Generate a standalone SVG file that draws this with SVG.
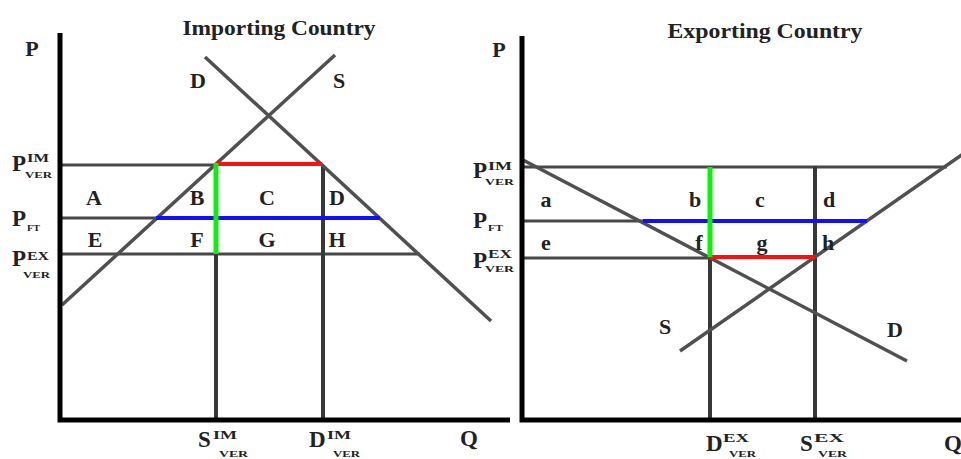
<svg xmlns="http://www.w3.org/2000/svg" width="961" height="459" viewBox="0 0 961 459">
<style>
.ax{stroke:#000;stroke-width:5;fill:none}
.pl{stroke:#484848;stroke-width:3;fill:none}
.vl{stroke:#383838;stroke-width:4;fill:none}
.cv{stroke:#505050;stroke-width:3.5;fill:none}
.red{stroke:#ff1010;stroke-width:4;fill:none}
.grn{stroke:#10ee10;stroke-width:5;fill:none}
.blu{stroke:#1010ff;stroke-width:4;fill:none}
text{font-family:"Liberation Serif","Times New Roman",serif;font-weight:bold;fill:#222}
.big{font-size:23px}
.lab{font-size:22px;text-anchor:middle}
.sup{font-size:12px}
.sub{font-size:9px}
.ttl{font-size:22px;text-anchor:middle}
</style>
<rect width="961" height="459" fill="#fff"/>

<g id="importing-country">
  <g id="imp-lines">
    <path class="pl" d="M60,165H216"/>
    <path class="pl" d="M60,218H156"/>
    <path class="pl" d="M60,254H420"/>
    <path class="vl" d="M216,254V420"/>
    <path class="vl" d="M323,165V420"/>
    <path id="imp-supply" class="cv" d="M62,305L335,55"/>
    <path id="imp-demand" class="cv" d="M205,57L491,321"/>
    <path class="red" d="M216,164H322"/>
    <path class="blu" d="M156,218H380"/>
    <path class="grn" d="M216,163V254"/>
    <path class="ax" d="M60,33V420H510"/>
  </g>
  <text class="ttl" x="279" y="35" textLength="193" lengthAdjust="spacingAndGlyphs">Importing Country</text>
  <text class="lab" x="32" y="56">P</text>
  <text class="lab" x="198" y="88">D</text>
  <text class="lab" x="339" y="88">S</text>
  <g id="imp-areas">
    <text class="lab" x="94" y="205">A</text>
    <text class="lab" x="197" y="205">B</text>
    <text class="lab" x="267" y="205">C</text>
    <text class="lab" x="337" y="205">D</text>
    <text class="lab" x="95" y="247">E</text>
    <text class="lab" x="197" y="247">F</text>
    <text class="lab" x="267" y="247">G</text>
    <text class="lab" x="337" y="247">H</text>
  </g>
  <g id="imp-axis-labels">
    <text class="big" x="12" y="171">P</text><text class="sup" x="27" y="162" textLength="22" lengthAdjust="spacingAndGlyphs">IM</text><text class="sub" x="25" y="178" textLength="27" lengthAdjust="spacingAndGlyphs">VER</text>
    <text class="big" x="12" y="226">P</text><text class="sub" x="27" y="231" textLength="13" lengthAdjust="spacingAndGlyphs">FT</text>
    <text class="big" x="12" y="266">P</text><text class="sup" x="27" y="260" textLength="22" lengthAdjust="spacingAndGlyphs">EX</text><text class="sub" x="23" y="278" textLength="27" lengthAdjust="spacingAndGlyphs">VER</text>
    <text class="big" x="198" y="447">S</text><text class="sup" x="213" y="439" textLength="24" lengthAdjust="spacingAndGlyphs">IM</text><text class="sub" x="219" y="457" textLength="29" lengthAdjust="spacingAndGlyphs">VER</text>
    <text class="big" x="309" y="447">D</text><text class="sup" x="327" y="439" textLength="24" lengthAdjust="spacingAndGlyphs">IM</text><text class="sub" x="333" y="457" textLength="27" lengthAdjust="spacingAndGlyphs">VER</text>
    <text class="big" x="460" y="446">Q</text>
  </g>
</g>

<g id="exporting-country">
  <g id="exp-lines">
    <path class="pl" d="M522,167H947"/>
    <path class="pl" d="M522,221H643"/>
    <path class="pl" d="M522,258H710"/>
    <path class="vl" d="M710,257V420"/>
    <path class="vl" d="M815,166V420"/>
    <path id="exp-demand" class="cv" d="M523,160L907,361"/>
    <path id="exp-supply" class="cv" d="M680,351L963,154"/>
    <path class="red" d="M710,257H815"/>
    <path class="blu" d="M643,221H867"/>
    <path class="grn" d="M710,167V257"/>
    <path class="ax" d="M522,36V420H961"/>
  </g>
  <text class="ttl" x="765" y="38" textLength="195" lengthAdjust="spacingAndGlyphs">Exporting Country</text>
  <text class="lab" x="499" y="57">P</text>
  <text class="lab" x="665" y="334">S</text>
  <text class="lab" x="895" y="337">D</text>
  <g id="exp-areas">
    <text class="lab" x="546" y="207">a</text>
    <text class="lab" x="695" y="207">b</text>
    <text class="lab" x="760" y="207">c</text>
    <text class="lab" x="829" y="207">d</text>
    <text class="lab" x="546" y="250">e</text>
    <text class="lab" x="699" y="250">f</text>
    <text class="lab" x="762" y="250">g</text>
    <text class="lab" x="828" y="250">h</text>
  </g>
  <g id="exp-axis-labels">
    <text class="big" x="473" y="178">P</text><text class="sup" x="488" y="170" textLength="24" lengthAdjust="spacingAndGlyphs">IM</text><text class="sub" x="485" y="185" textLength="29" lengthAdjust="spacingAndGlyphs">VER</text>
    <text class="big" x="473" y="228">P</text><text class="sub" x="488" y="231" textLength="15" lengthAdjust="spacingAndGlyphs">FT</text>
    <text class="big" x="473" y="268">P</text><text class="sup" x="488" y="258" textLength="24" lengthAdjust="spacingAndGlyphs">EX</text><text class="sub" x="485" y="272" textLength="29" lengthAdjust="spacingAndGlyphs">VER</text>
    <text class="big" x="706" y="451">D</text><text class="sup" x="723" y="442" textLength="26" lengthAdjust="spacingAndGlyphs">EX</text><text class="sub" x="729" y="457" textLength="27" lengthAdjust="spacingAndGlyphs">VER</text>
    <text class="big" x="800" y="451">S</text><text class="sup" x="814" y="442" textLength="30" lengthAdjust="spacingAndGlyphs">EX</text><text class="sub" x="818" y="457" textLength="29" lengthAdjust="spacingAndGlyphs">VER</text>
    <text class="big" x="944" y="451">Q</text>
  </g>
</g>
</svg>
